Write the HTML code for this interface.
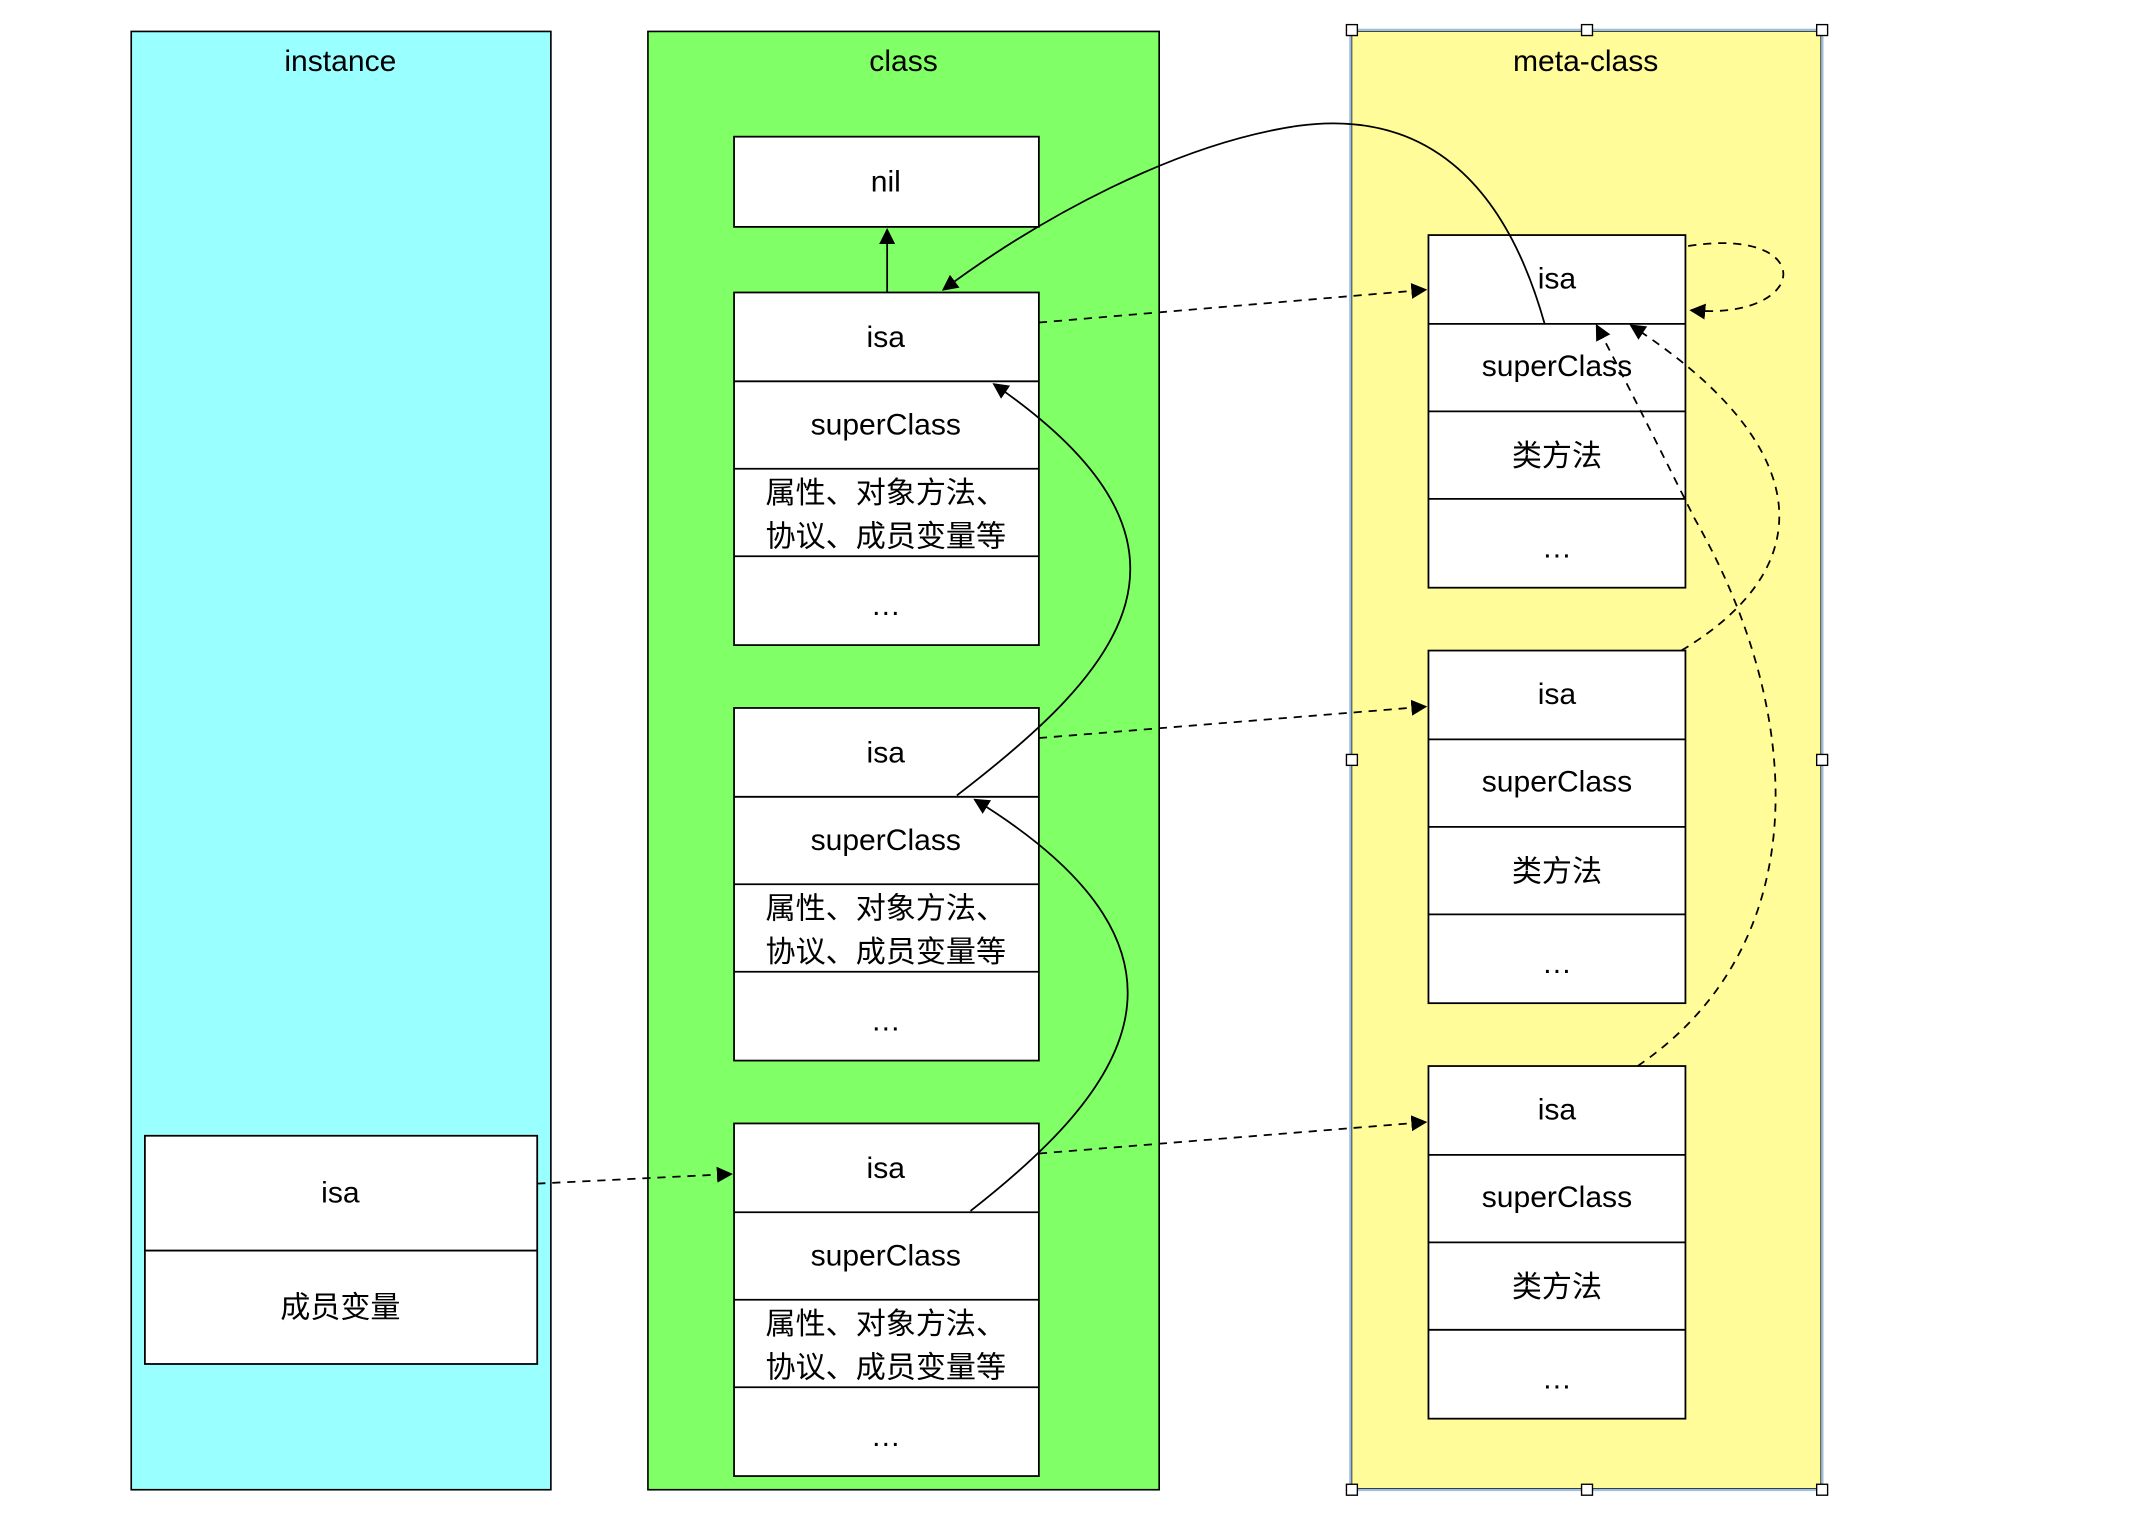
<!DOCTYPE html>
<html><head><meta charset="utf-8"><style>
html,body{margin:0;padding:0;background:#fff}
svg{display:block}
text{font-family:"Liberation Sans","Noto Sans CJK SC",sans-serif;font-size:22px;fill:#000;text-anchor:middle}
</style></head><body>
<svg width="2142" height="1528" viewBox="0 0 1567 1118" preserveAspectRatio="none" xmlns="http://www.w3.org/2000/svg">
<defs>
<marker id="a" viewBox="0 0 10 10" refX="9" refY="5" markerWidth="9" markerHeight="9" orient="auto"><path d="M0,0 L10,5 L0,10 z" fill="#000"/></marker>
</defs>
<rect width="1567" height="1118" fill="#fff"/>
<rect x="96" y="23" width="307" height="1067" fill="#99FFFF" stroke="#000" stroke-width="1.2"/>
<text x="249" y="52">instance</text>
<rect x="474" y="23" width="374" height="1067" fill="#80FF66" stroke="#000" stroke-width="1.2"/>
<text x="661" y="52">class</text>
<rect x="988" y="22" width="345" height="1068" fill="#FFFC99" stroke="#9fbfdf" stroke-width="2"/>
<rect x="989" y="23" width="343" height="1066" fill="none" stroke="#000" stroke-width="0.5"/>
<text x="1160" y="52">meta-class</text>
<g fill="#fff" stroke="#000" stroke-width="1">
<rect x="985" y="18" width="8" height="8"/><rect x="1157" y="18" width="8" height="8"/><rect x="1329" y="18" width="8" height="8"/>
<rect x="985" y="552" width="8" height="8"/><rect x="1329" y="552" width="8" height="8"/>
<rect x="985" y="1086" width="8" height="8"/><rect x="1157" y="1086" width="8" height="8"/><rect x="1329" y="1086" width="8" height="8"/>
</g>
<g fill="#fff" stroke="#000" stroke-width="1.3">
<rect x="537" y="100" width="223" height="66"/>
<rect x="537" y="214" width="223" height="258"/><line x1="537" y1="279" x2="760" y2="279"/><line x1="537" y1="343" x2="760" y2="343"/><line x1="537" y1="407" x2="760" y2="407"/>
<rect x="537" y="518" width="223" height="258"/><line x1="537" y1="583" x2="760" y2="583"/><line x1="537" y1="647" x2="760" y2="647"/><line x1="537" y1="711" x2="760" y2="711"/>
<rect x="537" y="822" width="223" height="258"/><line x1="537" y1="887" x2="760" y2="887"/><line x1="537" y1="951" x2="760" y2="951"/><line x1="537" y1="1015" x2="760" y2="1015"/>
<rect x="1045" y="172" width="188" height="258"/><line x1="1045" y1="237" x2="1233" y2="237"/><line x1="1045" y1="301" x2="1233" y2="301"/><line x1="1045" y1="365" x2="1233" y2="365"/>
<rect x="1045" y="476" width="188" height="258"/><line x1="1045" y1="541" x2="1233" y2="541"/><line x1="1045" y1="605" x2="1233" y2="605"/><line x1="1045" y1="669" x2="1233" y2="669"/>
<rect x="1045" y="780" width="188" height="258"/><line x1="1045" y1="845" x2="1233" y2="845"/><line x1="1045" y1="909" x2="1233" y2="909"/><line x1="1045" y1="973" x2="1233" y2="973"/>
<rect x="106" y="831" width="287" height="167"/><line x1="106" y1="915" x2="393" y2="915"/>
</g>
<text x="648" y="140">nil</text>
<g>
<text x="648" y="254">isa</text><text x="648" y="318">superClass</text><text x="648" y="368">属性、对象方法、</text><text x="648" y="400">协议、成员变量等</text><text x="648" y="450">…</text>
<text x="648" y="558">isa</text><text x="648" y="622">superClass</text><text x="648" y="672">属性、对象方法、</text><text x="648" y="704">协议、成员变量等</text><text x="648" y="754">…</text>
<text x="648" y="862">isa</text><text x="648" y="926">superClass</text><text x="648" y="976">属性、对象方法、</text><text x="648" y="1008">协议、成员变量等</text><text x="648" y="1058">…</text>
<text x="1139" y="211">isa</text><text x="1139" y="275">superClass</text><text x="1139" y="341">类方法</text><text x="1139" y="408">…</text>
<text x="1139" y="515">isa</text><text x="1139" y="579">superClass</text><text x="1139" y="645">类方法</text><text x="1139" y="712">…</text>
<text x="1139" y="819">isa</text><text x="1139" y="883">superClass</text><text x="1139" y="949">类方法</text><text x="1139" y="1016">…</text>
<text x="249" y="880">isa</text><text x="249" y="964">成员变量</text>
</g>
<g fill="none" stroke="#000" stroke-width="1.3">
<line x1="649" y1="214" x2="649" y2="168" marker-end="url(#a)"/>
<path d="M1130 237 C1100 130 1040 80 950 92 C860 105 760 160 690 212" marker-end="url(#a)"/>
<path d="M700 582 C820 490 900 400 727 281" marker-end="url(#a)"/>
<path d="M710 886 C820 800 900 700 713 585" marker-end="url(#a)"/>
</g>
<g fill="none" stroke="#000" stroke-width="1.3" stroke-dasharray="6,5">
<line x1="760" y1="236" x2="1043" y2="212" marker-end="url(#a)"/>
<line x1="760" y1="540" x2="1043" y2="517" marker-end="url(#a)"/>
<line x1="760" y1="844" x2="1043" y2="821" marker-end="url(#a)"/>
<line x1="393" y1="866" x2="535" y2="859" marker-end="url(#a)"/>
<path d="M1235 180 C1330 165 1325 235 1237 227" marker-end="url(#a)"/>
<path d="M1230 476 C1340 410 1320 320 1193 238" marker-end="url(#a)"/>
<path d="M1198 780 C1330 690 1320 520 1240 380 C1210 320 1190 280 1168 238" marker-end="url(#a)"/>
</g>
</svg>
</body></html>
